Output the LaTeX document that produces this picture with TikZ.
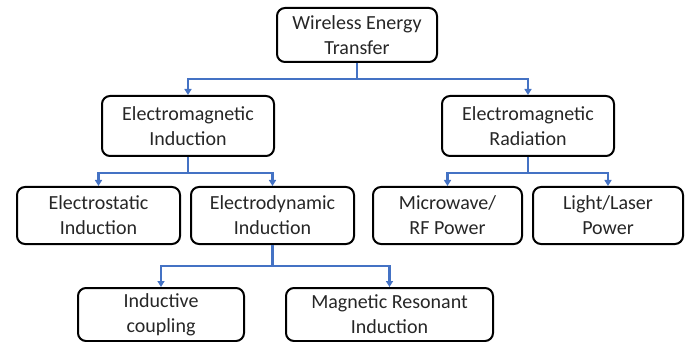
\documentclass[tikz,border=0pt]{standalone}
\usepackage{fontspec}
\setmainfont{Carlito}
\usetikzlibrary{arrows.meta}
\definecolor{linkblue}{RGB}{68,114,196}
\tikzset{
    box/.style={rectangle, rounded corners=8pt, draw=black, line width=2pt, align=center,
        inner sep=0pt, font=\fontsize{20}{25}\selectfont, text=black!85},
    link/.style={draw=linkblue, line width=2.2pt, -{Triangle[width=7pt,length=6pt]}}
}
\begin{document}
\begin{tikzpicture}[x=1pt, y=-1pt]
        \useasboundingbox (0,0) rectangle (691,342);
        % top level
        \node at (357,35) (wet)[box, minimum width=160pt, minimum height=54pt] {Wireless Energy\\Transfer};
        % second level
        \node at (188,126) (emi)[box, minimum width=172pt, minimum height=60pt] {Electromagnetic\\Induction};
        \node at (528,126) (emr)[box, minimum width=172pt, minimum height=60pt] {Electromagnetic\\Radiation};
        % third level
        \node at (98.5,215.5) (esi)[box, minimum width=163pt, minimum height=57pt] {Electrostatic\\Induction};
        \node at (272.5,215.5) (edi)[box, minimum width=163pt, minimum height=57pt] {Electrodynamic\\Induction};
        \node at (447.5,215.5) (mrf)[box, minimum width=149pt, minimum height=57pt] {Microwave/\\RF Power};
        \node at (608,215.5) (llp)[box, minimum width=150pt, minimum height=57pt] {Light/Laser\\Power};
        % fourth level
        \node at (161,314.5) (ind)[box, minimum width=166pt, minimum height=53pt] {Inductive\\coupling};
        \node at (389.5,314.5) (mri)[box, minimum width=207pt, minimum height=53pt] {Magnetic Resonant\\Induction};
        % connectors
        \draw [link] (wet.south) -- ++(0,16) -| (emi.north);
        \draw [link] (wet.south) -- ++(0,16) -| (emr.north);
        \draw [link] (emi.south) -- ++(0,16) -| (esi.north);
        \draw [link] (emi.south) -- ++(0,16) -| (edi.north);
        \draw [link] (emr.south) -- ++(0,16) -| (mrf.north);
        \draw [link] (emr.south) -- ++(0,16) -| (llp.north);
        \draw [link] (edi.south) -- ++(0,21) -| (ind.north);
        \draw [link] (edi.south) -- ++(0,21) -| (mri.north);
\end{tikzpicture}
\end{document}
